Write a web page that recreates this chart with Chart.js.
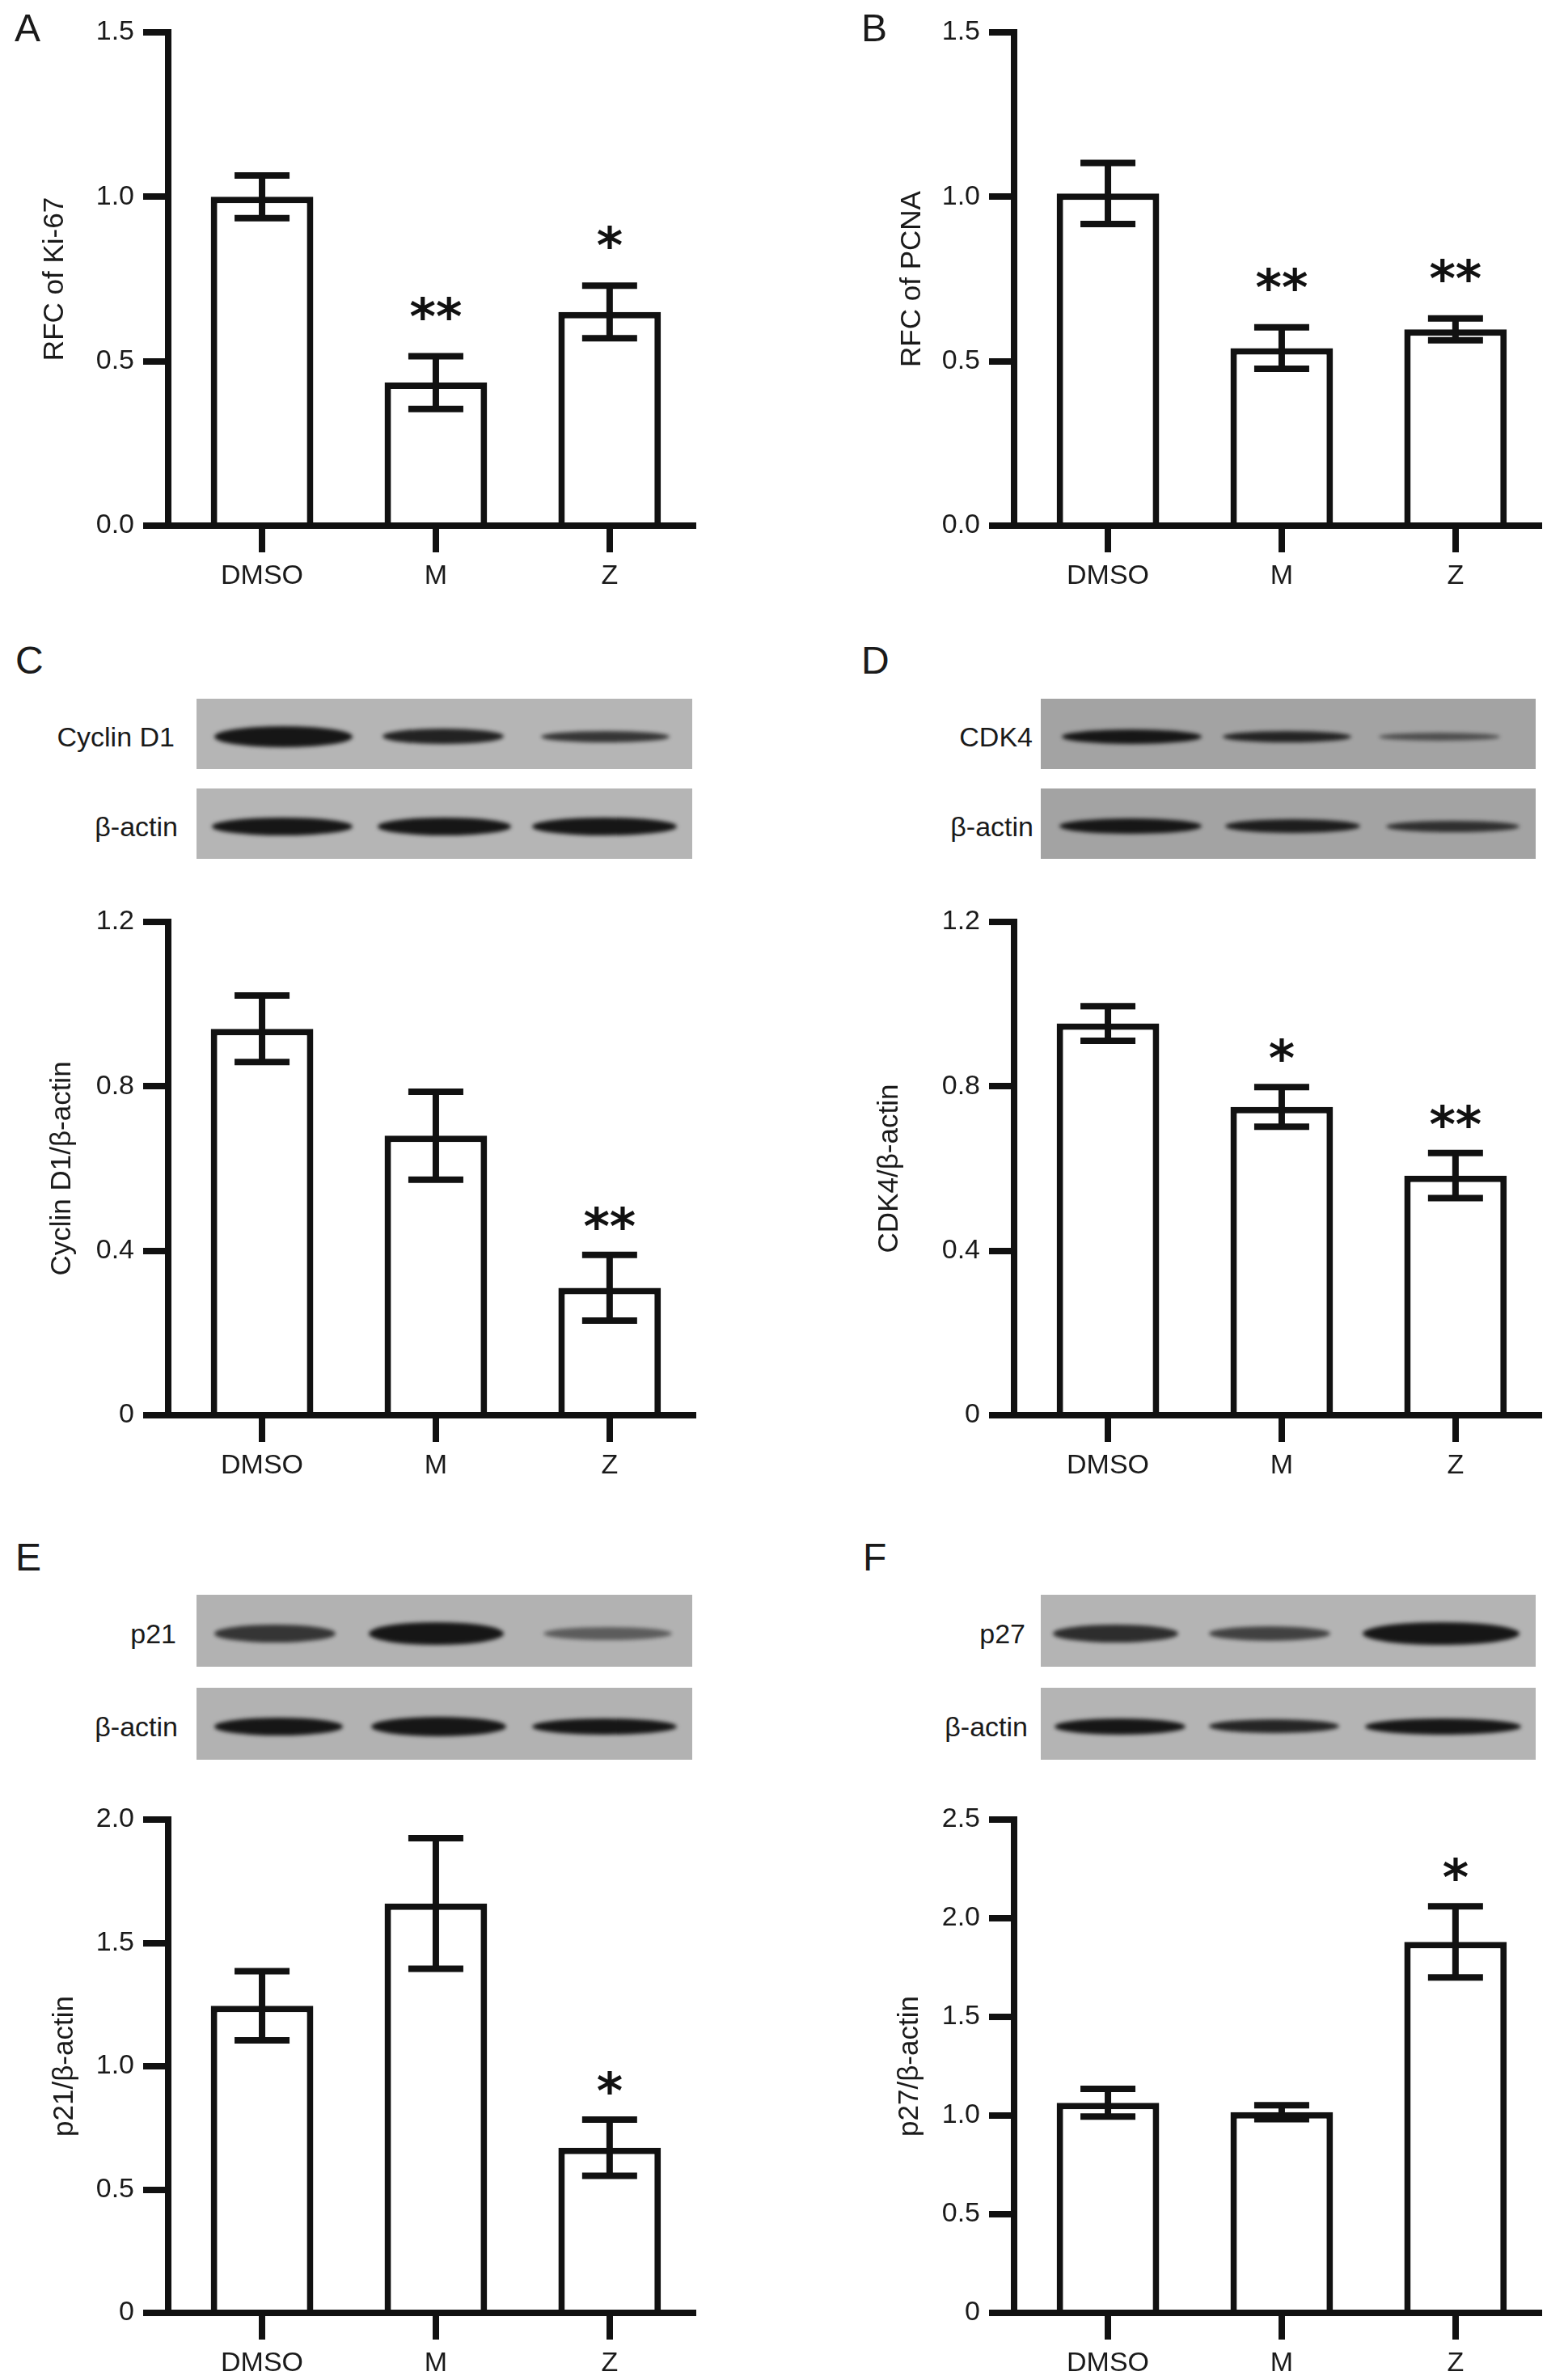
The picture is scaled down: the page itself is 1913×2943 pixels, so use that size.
<!DOCTYPE html>
<html>
<head>
<meta charset="utf-8">
<script src="https://cdn.jsdelivr.net/npm/chart.js@4.4.1/dist/chart.umd.min.js"></script>
<style>
html,body{margin:0;padding:0;background:#fff;}
body{position:relative;width:1913px;height:2943px;overflow:hidden;font-family:"Liberation Sans",Arial,Helvetica,sans-serif;color:#1a1a1a;}
canvas{position:absolute;}
.letter{position:absolute;font-size:48px;line-height:1;white-space:nowrap;}
.blot{position:absolute;overflow:hidden;}
.band{position:absolute;border-radius:50%;background:#161616;filter:blur(2.5px);}
.blabel{position:absolute;font-size:34px;line-height:1;text-align:right;white-space:nowrap;}
</style>
</head>
<body>
<script>
// ---------------- DATA ----------------
const categories = ["DMSO", "M", "Z"];

const valuesA = [1.00, 0.435, 0.65];
const errorsA = [0.065, 0.08, 0.08];
const starsA  = ["", "**", "*"];
const yTicksA = [0, 0.5, 1.0, 1.5];
const yLabelsA = ["0.0", "0.5", "1.0", "1.5"];
const titleA = "RFC of Ki-67";

const valuesB = [1.01, 0.54, 0.597];
const errorsB = [0.093, 0.063, 0.033];
const starsB  = ["", "**", "**"];
const yTicksB = [0, 0.5, 1.0, 1.5];
const yLabelsB = ["0.0", "0.5", "1.0", "1.5"];
const titleB = "RFC of PCNA";

const valuesC = [0.94, 0.68, 0.31];
const errorsC = [0.081, 0.107, 0.08];
const starsC  = ["", "", "**"];
const yTicksC = [0, 0.4, 0.8, 1.2];
const yLabelsC = ["0", "0.4", "0.8", "1.2"];
const titleC = "Cyclin D1/β-actin";

const valuesD = [0.953, 0.75, 0.583];
const errorsD = [0.042, 0.048, 0.055];
const starsD  = ["", "*", "**"];
const yTicksD = [0, 0.4, 0.8, 1.2];
const yLabelsD = ["0", "0.4", "0.8", "1.2"];
const titleD = "CDK4/β-actin";

const valuesE = [1.245, 1.66, 0.67];
const errorsE = [0.14, 0.265, 0.114];
const starsE  = ["", "", "*"];
const yTicksE = [0, 0.5, 1.0, 1.5, 2.0];
const yLabelsE = ["0", "0.5", "1.0", "1.5", "2.0"];
const titleE = "p21/β-actin";

const valuesF = [1.065, 1.017, 1.88];
const errorsF = [0.07, 0.035, 0.18];
const starsF  = ["", "", "*"];
const yTicksF = [0, 0.5, 1.0, 1.5, 2.0, 2.5];
const yLabelsF = ["0", "0.5", "1.0", "1.5", "2.0", "2.5"];
const titleF = "p27/β-actin";

// blot labels
const blotNamesC = ["Cyclin D1", "β-actin"];
const blotNamesD = ["CDK4", "β-actin"];
const blotNamesE = ["p21", "β-actin"];
const blotNamesF = ["p27", "β-actin"];
// band appearance (relative intensity per lane) for target and loading control
const bandIntensityC = [[1.0, 0.92, 0.8], [1.0, 1.0, 1.0]];
const bandIntensityD = [[1.0, 0.9, 0.6], [1.0, 0.95, 0.82]];
const bandIntensityE = [[0.8, 1.0, 0.55], [1.0, 1.0, 1.0]];
const bandIntensityF = [[0.85, 0.72, 1.0], [1.0, 0.9, 1.0]];

// ---------------- STYLE / LAYOUT ----------------
const FONT = '"Liberation Sans", Arial, Helvetica, sans-serif';
const INK = '#111111';
Chart.defaults.font.family = FONT;
Chart.defaults.color = '#1a1a1a';

const extrasPlugin = {
  id: 'extras',
  afterDraw(chart, args, opts) {
    const ctx = chart.ctx;
    const meta = chart.getDatasetMeta(0);
    const ys = chart.scales.y;
    const ds = chart.data.datasets[0];
    ctx.save();
    ctx.strokeStyle = INK;
    ctx.lineWidth = 8;
    ctx.lineCap = 'butt';
    meta.data.forEach((bar, i) => {
      const v = ds.data[i].y, e = opts.errors[i];
      const yt = ys.getPixelForValue(v + e);
      const yb = ys.getPixelForValue(v - e);
      const x = bar.x, hw = 34;
      ctx.beginPath();
      ctx.moveTo(x, yt - 4); ctx.lineTo(x, yb + 4);
      ctx.moveTo(x - hw, yt); ctx.lineTo(x + hw, yt);
      ctx.moveTo(x - hw, yb); ctx.lineTo(x + hw, yb);
      ctx.stroke();
      const s = opts.stars[i];
      if (s) {
        ctx.font = 'bold 62px "DejaVu Sans", sans-serif';
        ctx.fillStyle = INK;
        ctx.textAlign = 'center';
        ctx.textBaseline = 'alphabetic';
        const m = ctx.measureText(s);
        const cy = yt - opts.starGap;
        ctx.fillText(s, x, cy + (m.actualBoundingBoxAscent - m.actualBoundingBoxDescent) / 2);
      }
    });
    ctx.restore();
  }
};

function makePanel(cfg) {
  const cv = document.createElement('canvas');
  cv.width = cfg.w; cv.height = cfg.h;
  cv.style.left = cfg.left + 'px'; cv.style.top = cfg.top + 'px';
  cv.style.width = cfg.w + 'px'; cv.style.height = cfg.h + 'px';
  document.body.appendChild(cv);
  new Chart(cv, {
    type: 'bar',
    data: {
      datasets: [{
        data: cfg.values.map((v, i) => ({x: i, y: v})),
        backgroundColor: '#ffffff',
        borderColor: INK,
        borderWidth: 8,
        borderSkipped: 'start',
        barPercentage: 0.59,
        categoryPercentage: 1
      }]
    },
    options: {
      responsive: false,
      animation: false,
      devicePixelRatio: 1,
      events: [],
      layout: {padding: {top: cfg.chartTop - cfg.top, right: cfg.left + cfg.w - cfg.chartRight, left: 0, bottom: 0}},
      plugins: {
        legend: {display: false},
        tooltip: {enabled: false},
        extras: {errors: cfg.errors, stars: cfg.stars, starGap: cfg.starGap}
      },
      scales: {
        x: {
          type: 'linear', min: -0.54, max: 2.48, z: 1, offset: false,
          afterBuildTicks: s => { s.ticks = categories.map((c, i) => ({value: i})); },
          afterFit: s => { s.height = cfg.top + cfg.h - cfg.chartBottom; },
          grid: {drawOnChartArea: false, drawTicks: true, tickLength: 33, lineWidth: 8, tickColor: INK, offset: false},
          border: {display: true, color: INK, width: 8},
          ticks: {padding: 13, color: '#1a1a1a', font: {size: 34, lineHeight: 1}, maxRotation: 0, autoSkip: false,
                  callback: (v, i) => categories[i]}
        },
        y: {
          min: 0, max: cfg.yTicks[cfg.yTicks.length - 1], z: 1,
          afterBuildTicks: s => { s.ticks = cfg.yTicks.map(v => ({value: v})); },
          afterFit: s => { s.width = cfg.axisX - cfg.left; },
          grid: {drawOnChartArea: false, drawTicks: true, tickLength: 31, lineWidth: 8, tickColor: INK},
          border: {display: true, color: INK, width: 8},
          ticks: {padding: 11, color: '#1a1a1a', font: {size: 34, lineHeight: 1},
                  callback: (v, i) => cfg.yLabels[i]},
          title: {display: true, text: cfg.title, color: '#1a1a1a', font: {size: 35, lineHeight: 1},
                  padding: {top: cfg.titleX - cfg.left - 17.5, bottom: 0}}
        }
      }
    },
    plugins: [extrasPlugin]
  });
}

function addLetter(t, x, baseline) {
  const d = document.createElement('div');
  d.className = 'letter';
  d.textContent = t;
  d.style.left = x + 'px';
  d.style.top = (baseline - 40.6) + 'px';
  document.body.appendChild(d);
}

function addBlot(box, names, intensities, lanes, labelRight, bg) {
  const rows = [box.y1, box.y2];
  rows.forEach((top, r) => {
    const b = document.createElement('div');
    b.className = 'blot';
    b.style.left = box.x + 'px'; b.style.top = top + 'px';
    b.style.width = box.w + 'px'; b.style.height = box.h + 'px';
    b.style.background = bg;
    lanes[r].forEach((ln, k) => {
      const band = document.createElement('div');
      band.className = 'band';
      const h = ln[2];
      band.style.left = ln[0] + 'px';
      band.style.width = (ln[1] - ln[0]) + 'px';
      band.style.height = h + 'px';
      band.style.top = (box.h / 2 + 3 - h / 2) + 'px';
      band.style.opacity = intensities[r][k];
      b.appendChild(band);
    });
    document.body.appendChild(b);
    const l = document.createElement('div');
    l.className = 'blabel';
    l.textContent = names[r];
    l.style.right = (1913 - labelRight[r]) + 'px';
    l.style.top = (top + box.h / 2 + 3 - 16.6) + 'px';
    document.body.appendChild(l);
  });
}

// ---------------- PANELS ----------------
const L = {left: 0, w: 956, axisX: 208, chartRight: 857};
const R = {left: 956, w: 957, axisX: 1254, chartRight: 1903};

makePanel(Object.assign({}, L, {top: 0, h: 750, chartTop: 40, chartBottom: 650, titleX: 68, starGap: 60,
  values: valuesA, errors: errorsA, stars: starsA, yTicks: yTicksA, yLabels: yLabelsA, title: titleA}));
makePanel(Object.assign({}, R, {top: 0, h: 750, chartTop: 40, chartBottom: 650, titleX: 1128, starGap: 60,
  values: valuesB, errors: errorsB, stars: starsB, yTicks: yTicksB, yLabels: yLabelsB, title: titleB}));
makePanel(Object.assign({}, L, {top: 1080, h: 780, chartTop: 1140, chartBottom: 1750, titleX: 77, starGap: 46,
  values: valuesC, errors: errorsC, stars: starsC, yTicks: yTicksC, yLabels: yLabelsC, title: titleC}));
makePanel(Object.assign({}, R, {top: 1080, h: 780, chartTop: 1140, chartBottom: 1750, titleX: 1100, starGap: 46,
  values: valuesD, errors: errorsD, stars: starsD, yTicks: yTicksD, yLabels: yLabelsD, title: titleD}));
makePanel(Object.assign({}, L, {top: 2190, h: 753, chartTop: 2250, chartBottom: 2860, titleX: 80, starGap: 46,
  values: valuesE, errors: errorsE, stars: starsE, yTicks: yTicksE, yLabels: yLabelsE, title: titleE}));
makePanel(Object.assign({}, R, {top: 2190, h: 753, chartTop: 2250, chartBottom: 2860, titleX: 1125, starGap: 46,
  values: valuesF, errors: errorsF, stars: starsF, yTicks: yTicksF, yLabels: yLabelsF, title: titleF}));

addLetter('A', 18, 52);
addLetter('B', 1065, 52);
addLetter('C', 19, 834);
addLetter('D', 1065, 834);
addLetter('E', 19, 1943);
addLetter('F', 1067, 1943);

addBlot({x: 243, w: 613, y1: 864, y2: 975, h: 87}, blotNamesC, bandIntensityC,
  [[[22,193,26],[230,380,19],[426,585,14]], [[19,193,22],[224,389,22],[415,594,22]]], [216, 220], '#b5b5b5');
addBlot({x: 1287, w: 612, y1: 864, y2: 975, h: 87}, blotNamesD, bandIntensityD,
  [[[26,199,18],[225,384,14],[418,568,10]], [[23,199,19],[228,395,17],[427,592,14]]], [1277, 1278], '#a3a3a3');
addBlot({x: 243, w: 613, y1: 1972, y2: 2087, h: 89}, blotNamesE, bandIntensityE,
  [[[22,172,22],[213,380,28],[429,588,16]], [[22,181,22],[216,383,24],[415,594,20]]], [218, 220], '#b2b2b2');
addBlot({x: 1287, w: 612, y1: 1972, y2: 2087, h: 89}, blotNamesF, bandIntensityF,
  [[[15,170,22],[208,358,18],[398,592,28]], [[17,179,20],[208,369,17],[401,594,20]]], [1268, 1271], '#b4b4b4');
</script>
</body>
</html>
